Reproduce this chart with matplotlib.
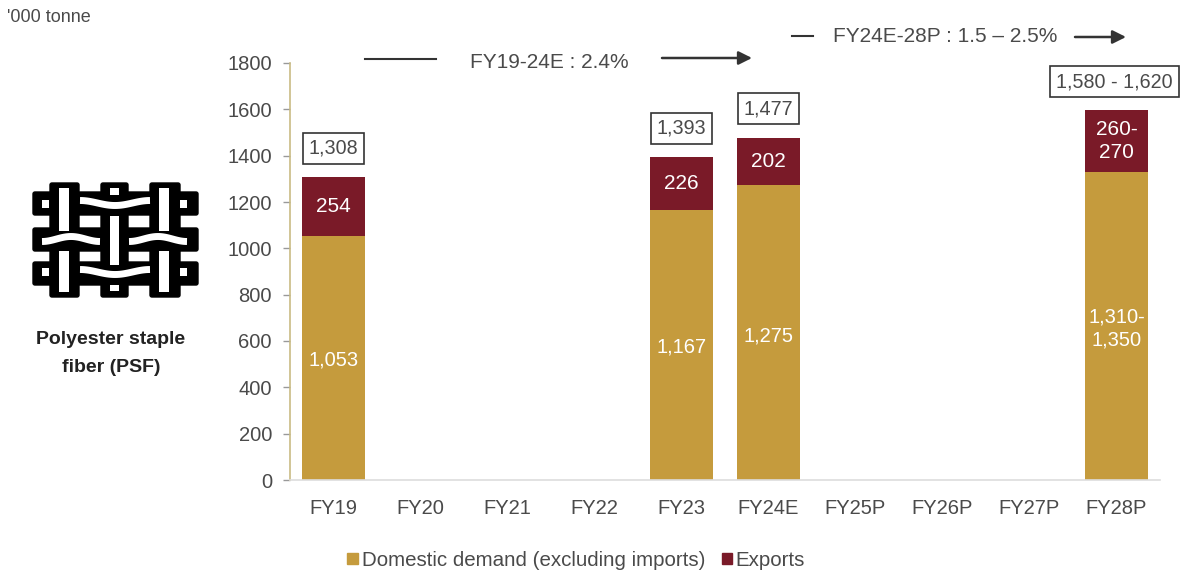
import matplotlib
matplotlib.use('Agg')
import matplotlib.pyplot as plt
from matplotlib.patches import Rectangle, FancyBboxPatch
import numpy as np

plt.rcParams['font.family'] = ['Liberation Sans', 'DejaVu Sans']

# Data
years = ['FY19', 'FY20', 'FY21', 'FY22', 'FY23', 'FY24E', 'FY25P', 'FY26P', 'FY27P', 'FY28P']
domestic = [1053, 0, 0, 0, 1167, 1275, 0, 0, 0, 1330]
exports = [254, 0, 0, 0, 226, 202, 0, 0, 0, 265]
domestic_labels = ['1,053', '', '', '', '1,167', '1,275', '', '', '', '1,310-\n1,350']
export_labels = ['254', '', '', '', '226', '202', '', '', '', '260-\n270']
total_labels = ['1,308', '', '', '', '1,393', '1,477', '', '', '', '1,580 - 1,620']
yticks = [0, 200, 400, 600, 800, 1000, 1200, 1400, 1600, 1800]

W, H = 1183, 573
GOLD = '#C59B3D'
MAROON = '#7A1A28'
GREY = '#4a4a4a'

fig = plt.figure(figsize=(W / 100, H / 100), dpi=100)
ax = fig.add_axes([290 / W, 1 - 480 / H, 870 / W, 417 / H])

x = np.arange(len(years))
ax.bar(x, domestic, width=0.72, color=GOLD)
ax.bar(x, exports, width=0.72, bottom=domestic, color=MAROON)

for i in x:
    if domestic_labels[i]:
        ax.text(i, domestic[i] / 2 - 10 if i != 5 else 620, domestic_labels[i], ha='center', va='center',
                color='white', fontsize=14.5, linespacing=1.3)
        ax.text(i, domestic[i] + exports[i] / 2, export_labels[i], ha='center', va='center',
                color='white', fontsize=15, linespacing=1.3)
        # the widest box sits a little left of its bar
        ax.annotate(total_labels[i], (i, domestic[i] + exports[i]), xytext=(-1.5 if i == 9 else 0, 14),
                    textcoords='offset points', ha='center', va='bottom', fontsize=14.2, color=GREY,
                    bbox=dict(boxstyle='square,pad=0.3', fc='white', ec='#333333', lw=1.2))

ax.set_xlim(-0.5, 9.5)
ax.set_ylim(0, 1800)
ax.set_yticks(yticks)
ax.set_xticks(x)
ax.set_xticklabels(years)
ax.tick_params(axis='y', labelsize=14.5, labelcolor=GREY, color='#999999', length=5, width=1, pad=8)
ax.tick_params(axis='x', labelsize=14.5, labelcolor=GREY, length=0, pad=14)
for s in ['top', 'right']:
    ax.spines[s].set_visible(False)
ax.spines['left'].set_color('#c9bb84')
ax.spines['left'].set_linewidth(1.2)
ax.spines['bottom'].set_color('#dddddd')
ax.spines['bottom'].set_linewidth(1.2)

# Overlay in pixel coordinates for notes, legend and icon
ov = fig.add_axes([0, 0, 1, 1], zorder=5)
ov.set_xlim(0, W)
ov.set_ylim(H, 0)
ov.axis('off')
ov.patch.set_alpha(0)

ov.text(7, 17, "'000 tonne", fontsize=13, color=GREY, va='center')

# CAGR arrows
ov.plot([365, 436], [59, 59], color='#333333', lw=1.5)
ov.text(549, 62, 'FY19-24E : 2.4%', fontsize=15, color=GREY, ha='center', va='center')
ov.annotate('', xy=(752, 58), xytext=(662, 58),
            arrowprops=dict(arrowstyle='-|>', color='#333333', lw=1.8, mutation_scale=20, shrinkA=0, shrinkB=0))
ov.plot([792, 813], [36, 36], color='#333333', lw=1.5)
ov.text(945, 36, 'FY24E-28P : 1.5 \u2013 2.5%', fontsize=15, color=GREY, ha='center', va='center')
ov.annotate('', xy=(1126, 37), xytext=(1075, 37),
            arrowprops=dict(arrowstyle='-|>', color='#333333', lw=1.8, mutation_scale=20, shrinkA=0, shrinkB=0))

# Legend
ov.add_patch(Rectangle((347, 553), 11, 11, color=GOLD))
ov.text(362, 560, 'Domestic demand (excluding imports)', fontsize=14.8, color=GREY, va='center')
ov.add_patch(Rectangle((722, 553), 10, 11, color=MAROON))
ov.text(735, 560, 'Exports', fontsize=14.8, color=GREY, va='center')

# Woven fibre icon, black strands with white centres
for x0, x1 in [(50, 79), (101, 128), (150, 180)]:
    ov.add_patch(FancyBboxPatch((x0 + 2, 185), x1 - x0 - 4, 110, boxstyle='round,pad=2', fc='black', ec='black'))
for y0 in [192, 228, 262]:
    ov.add_patch(FancyBboxPatch((35, y0 + 2), 161, 19, boxstyle='round,pad=2', fc='black', ec='black'))

wave = np.linspace(0, 1, 40)
def strand(x0, x1, yc, sign):
    xs = x0 + (x1 - x0) * wave
    ys = yc + sign * 2.5 * np.sin(np.pi * wave * 2 - np.pi / 2)
    ov.plot(xs, ys, color='white', lw=5, solid_capstyle='butt', zorder=4)

strand(80, 150, 203, 1)
strand(80, 150, 272, 1)
strand(42, 100, 239, -1)
strand(129, 187, 239, -1)

for x0, y0, w, h in [(59, 188, 10, 43), (59, 251, 10, 41), (110, 216, 9, 49), (159, 188, 10, 43),
                     (159, 251, 10, 41), (110, 188, 9, 7), (110, 285, 9, 6),
                     (42, 200, 7, 8), (180, 200, 7, 8), (42, 268, 7, 8), (180, 268, 7, 8)]:
    ov.add_patch(Rectangle((x0, y0), w, h, fc='white', ec='none', zorder=4))

ov.text(111, 340, 'Polyester staple', fontsize=14, fontweight='bold', color='#222222', ha='center', va='center')
ov.text(111, 367, 'fiber (PSF)', fontsize=14, fontweight='bold', color='#222222', ha='center', va='center')

fig.savefig('out.png', dpi=100)
